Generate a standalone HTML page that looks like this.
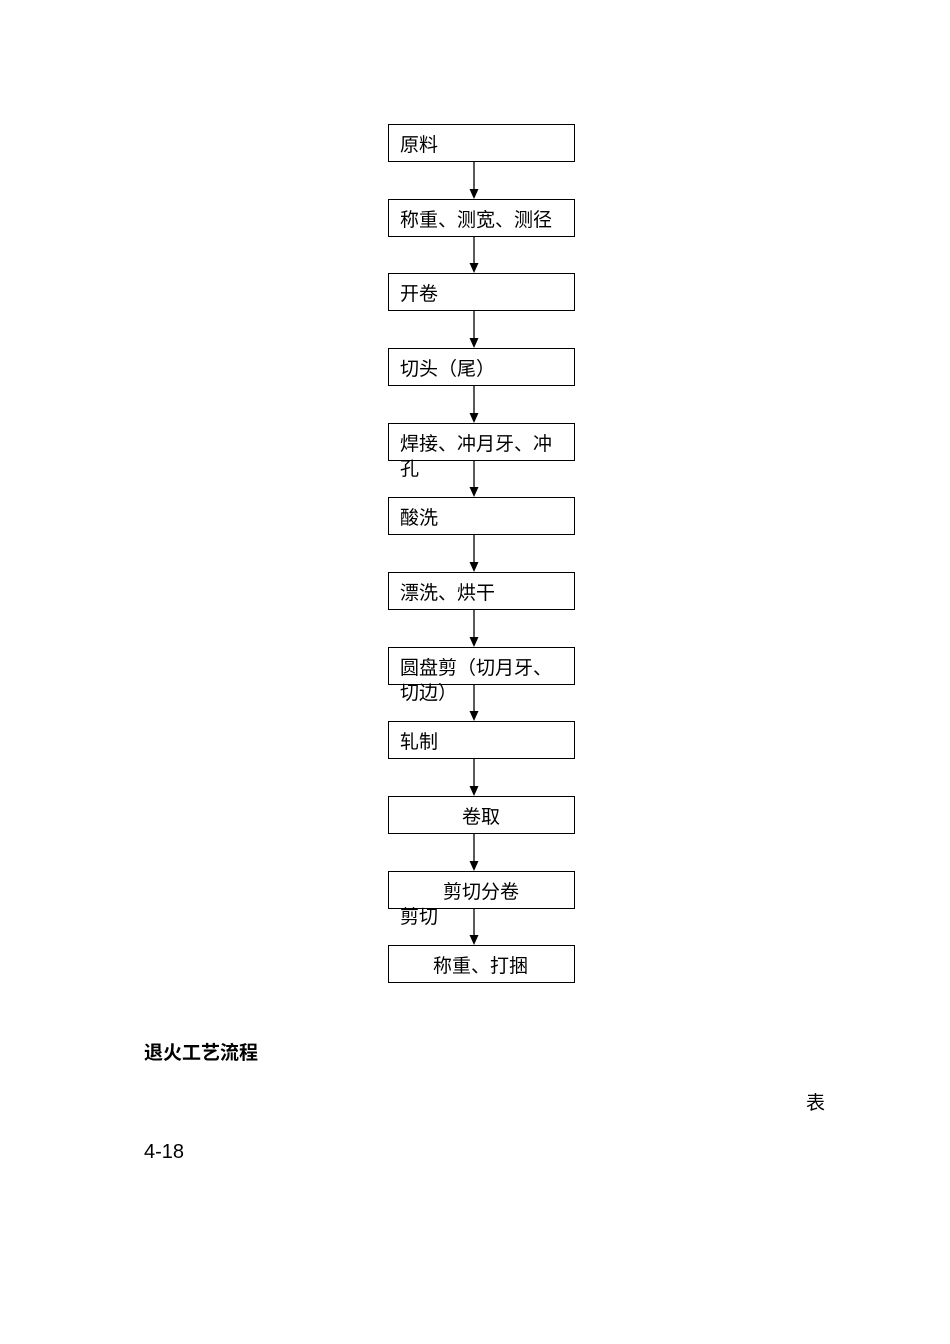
<!DOCTYPE html>
<html><head><meta charset="utf-8"><style>
body{margin:0;width:950px;height:1344px;background:#fff;position:relative;font-family:"Liberation Sans","Noto Sans CJK SC",sans-serif;color:#000}
.b{position:absolute;left:388px;width:185px;height:36px;border:1px solid #000;box-sizing:content-box}
.t{position:absolute;font-size:19px;line-height:25px;white-space:nowrap;margin-top:2px}
svg{position:absolute;left:0;top:0}
</style></head><body>
<svg width="950" height="1344">
<g stroke="#000" stroke-width="1.3">
<line x1="474" y1="161" x2="474" y2="192"/><line x1="474" y1="236" x2="474" y2="266"/>
<line x1="474" y1="310" x2="474" y2="341"/><line x1="474" y1="385" x2="474" y2="416"/>
<line x1="474" y1="460" x2="474" y2="490"/><line x1="474" y1="534" x2="474" y2="565"/>
<line x1="474" y1="609" x2="474" y2="640"/><line x1="474" y1="684" x2="474" y2="714"/>
<line x1="474" y1="758" x2="474" y2="789"/><line x1="474" y1="833" x2="474" y2="864"/>
<line x1="474" y1="908" x2="474" y2="938"/>
</g>
<g fill="#000">
<polygon points="469.5,189 478.5,189 474,199"/><polygon points="469.5,263 478.5,263 474,273"/>
<polygon points="469.5,338 478.5,338 474,348"/><polygon points="469.5,413 478.5,413 474,423"/>
<polygon points="469.5,487 478.5,487 474,497"/><polygon points="469.5,562 478.5,562 474,572"/>
<polygon points="469.5,637 478.5,637 474,647"/><polygon points="469.5,711 478.5,711 474,721"/>
<polygon points="469.5,786 478.5,786 474,796"/><polygon points="469.5,861 478.5,861 474,871"/>
<polygon points="469.5,935 478.5,935 474,945"/>
</g>
</svg>
<div class="b" style="top:124px"></div><div class="t" style="left:400px;top:131px">原料</div>
<div class="b" style="top:199px"></div><div class="t" style="left:400px;top:206px">称重、测宽、测径</div>
<div class="b" style="top:273px"></div><div class="t" style="left:400px;top:280px">开卷</div>
<div class="b" style="top:348px"></div><div class="t" style="left:400px;top:355px">切头（尾）</div>
<div class="b" style="top:423px"></div><div class="t" style="left:400px;top:430px">焊接、冲月牙、冲<br>孔</div>
<div class="b" style="top:497px"></div><div class="t" style="left:400px;top:504px">酸洗</div>
<div class="b" style="top:572px"></div><div class="t" style="left:400px;top:579px">漂洗、烘干</div>
<div class="b" style="top:647px"></div><div class="t" style="left:400px;top:654px">圆盘剪（切月牙、<br>切边）</div>
<div class="b" style="top:721px"></div><div class="t" style="left:400px;top:728px">轧制</div>
<div class="b" style="top:796px"></div><div class="t" style="left:462px;top:803px">卷取</div>
<div class="b" style="top:871px"></div><div class="t" style="left:443px;top:878px">剪切分卷</div>
<div class="t" style="left:400px;top:903px">剪切</div>
<div class="b" style="top:945px"></div><div class="t" style="left:433px;top:952px">称重、打捆</div>
<div class="t" style="left:144px;top:1039px;font-weight:bold">退火工艺流程</div>
<div class="t" style="left:806px;top:1089px">表</div>
<div class="t" style="left:144px;top:1138px;font-size:20px">4-18</div>
</body></html>
